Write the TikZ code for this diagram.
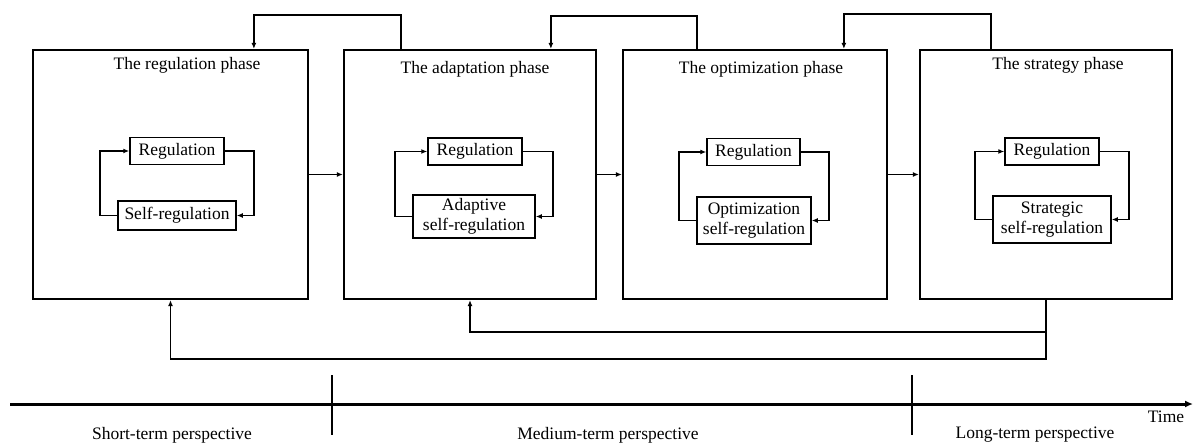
\documentclass[tikz,border=0pt]{standalone}
\usepackage{fontspec}
\setmainfont{Liberation Serif}
\usepackage{tikz}
\usetikzlibrary{arrows.meta,positioning,calc}

\tikzset{
  phase/.style={draw,line width=2.2pt,minimum width=252pt,minimum height=249pt,inner sep=0pt},
  innerbox/.style={draw,line width=1.5pt,align=center,inner sep=2pt,minimum height=27pt},
  flow/.style={line width=1.6pt,-{Latex[length=6pt,width=5pt]}},
  txt/.style={font=\fontsize{17.5}{20}\selectfont,align=center},
}

\begin{document}
\begin{tikzpicture}[x=1pt,y=-1pt,every node/.style={txt}]
  \useasboundingbox (0,0) rectangle (1193,443);

  % phase boxes
  \node[phase,minimum width=275pt] (ph1) at (170.5,174.5) {};
  \node[phase] (ph2) at (470,174.5) {};
  \node[phase,minimum width=264pt] (ph3) at (755,174.5) {};
  \node[phase] (ph4) at (1046,174.5) {};

  \node (ttl1) at (187,65) {The regulation phase};
  \node (ttl2) at (475,69) {The adaptation phase};
  \node (ttl3) at (761,69) {The optimization phase};
  \node (ttl4) at (1058,65) {The strategy phase};

  % inner loops
  \node[innerbox,minimum width=94pt] (reg1) at (177,151) {Regulation};
  \node[innerbox,minimum width=94pt] (reg2) at (475,151.5) {Regulation};
  \node[innerbox,minimum width=93pt] (reg3) at (753.5,152) {Regulation};
  \node[innerbox,minimum width=94pt] (reg4) at (1052,151.5) {Regulation};

  \node[innerbox,minimum width=118pt,minimum height=29pt] (sr1) at (177,215.5) {Self-regulation};
  \node[innerbox,minimum width=122pt,minimum height=43pt] (sr2) at (474,216.5) {Adaptive\\self-regulation};
  \node[innerbox,minimum width=114pt,minimum height=47pt] (sr3) at (754,220.5) {Optimization\\self-regulation};
  \node[innerbox,minimum width=118pt,minimum height=47pt] (sr4) at (1052,219.5) {Strategic\\self-regulation};

  \foreach \i in {1,...,4} {
    \draw[flow] (sr\i.west) -- ([xshift=-17pt]sr\i.west) |- (reg\i.west);
    \draw[flow] (reg\i.east) -| ([xshift=17pt]sr\i.east) -- (sr\i.east);
  }

  % forward arrows
  \draw[flow] (ph1.east) -- (ph2.west);
  \draw[flow] (ph2.east) -- (ph3.west);
  \draw[flow] (ph3.east) -- (ph4.west);

  % feedback on top
  \draw[flow] ([xshift=58pt]ph2.north west) -- ++(0,-34) -| ([xshift=222pt]ph1.north west);
  \draw[flow] ([xshift=75pt]ph3.north west) -- ++(0,-33) -| ([xshift=208pt]ph2.north west);
  \draw[flow] ([xshift=72pt]ph4.north west) -- ++(0,-35) -| ([xshift=222pt]ph3.north west);

  % feedback below
  \draw[flow] (ph4.south) -- ++(0,59) -| (ph1.south);
  \draw[flow] ([yshift=-32pt]ph4.south) -| (ph2.south);

  % time axis
  \coordinate (tstart) at (10,404);
  \coordinate (tend) at (1193,404);
  \draw[line width=3pt,-{Latex[length=8pt,width=7pt]}] (tstart) -- (tend);
  \draw[line width=2.4pt] (332,375) -- (332,435);
  \draw[line width=2.4pt] (912,375) -- (912,435);

  \node (short) at (172,435) {Short-term perspective};
  \node (medium) at (608,435) {Medium-term perspective};
  \node (long) at (1035,435) {Long-term perspective};
  \node (time) at (1166,417) {Time};
\end{tikzpicture}
\end{document}
